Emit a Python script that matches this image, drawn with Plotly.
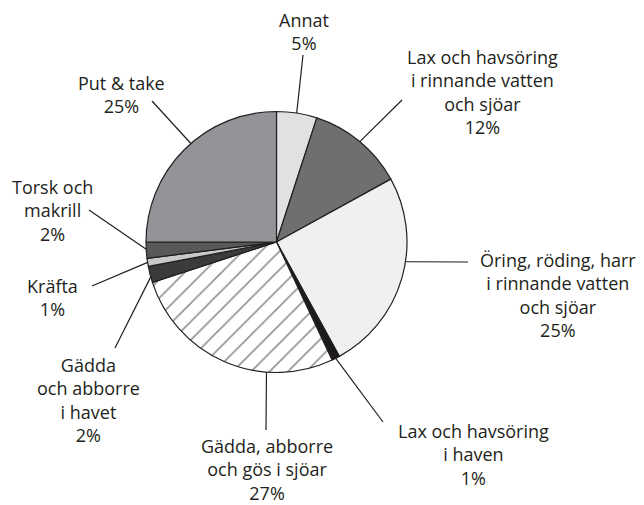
import math
import plotly.graph_objects as go

# ---- data ----
categories = [
    "Annat",
    "Lax och havsöring<br>i rinnande vatten<br>och sjöar",
    "Öring, röding, harr<br>i rinnande vatten<br>och sjöar",
    "Lax och havsöring<br>i haven",
    "Gädda, abborre<br>och gös i sjöar",
    "Gädda<br>och abborre<br>i havet",
    "Kräfta",
    "Torsk och<br>makrill",
    "Put & take",
]
values = [5, 12, 25, 1, 27, 2, 1, 2, 25]

# ---- style / layout ----
colors = ["#e1e1e3", "#6e6f71", "#f0f0f0", "#1c1a1b", "#ffffff",
          "#3b3a3c", "#c9c9cb", "#58585a", "#939497"]
patterns = ["", "", "", "", "/", "", "", "", ""]
INK = "#231f20"
W, H = 644, 505
OFF = 8  # page body margin offset
CX, CY, R = 276.5, 242.0, 130.5

# label block centres (px) and leader outer end (px), leader angle on rim (deg clockwise from top)
label_pos = [(304, 31), (482, 92), (558, 295), (473, 454), (267, 469),
             (89, 400), (53, 297), (52, 210), (121, 94)]
leader_end = [(303, 55), (402, 100), (468, 262), (383, 422), (266, 430),
              (115, 348), (92, 286), (89, 210), (152, 101)]
leader_angle = [8.9, 39.7, 98.7, 153.0, 184.4, 254.5, 261.0, 266.8, 319.0]

def px(x):
    return (x - OFF) / W

def py(y):
    return 1 - (y - OFF) / H

fig = go.Figure(go.Pie(
    values=values,
    labels=[c.replace("<br>", " ") for c in categories],
    sort=False,
    direction="clockwise",
    rotation=0,
    textinfo="none",
    hoverinfo="label+percent",
    marker=dict(colors=colors,
                line=dict(color=INK, width=1.2),
                pattern=dict(shape=patterns, fgcolor=INK, bgcolor="#ffffff",
                             fillmode="overlay", size=13, solidity=0.12)),
    domain=dict(x=[px(CX - R), px(CX + R)], y=[py(CY + R), py(CY - R)]),
    showlegend=False,
))

total = sum(values)
shapes = []
annotations = []
for cat, v, (lx, ly), (ex, ey), ang in zip(categories, values, label_pos, leader_end, leader_angle):
    pct = round(100 * v / total)
    a = math.radians(ang)
    sx = CX + R * math.sin(a)
    sy = CY - R * math.cos(a)
    shapes.append(dict(type="line", xref="paper", yref="paper",
                       x0=px(sx), y0=py(sy), x1=px(ex), y1=py(ey),
                       line=dict(color=INK, width=1.2)))
    annotations.append(dict(x=px(lx), y=py(ly), xref="paper", yref="paper",
                            text=f"{cat}<br>{pct}%", showarrow=False,
                            xanchor="center", yanchor="middle", align="center",
                            font=dict(family="Open Sans, Noto Sans, sans-serif",
                                      size=18, color=INK)))

fig.update_layout(
    width=W, height=H,
    margin=dict(l=0, r=0, t=0, b=0),
    paper_bgcolor="white", plot_bgcolor="white",
    shapes=shapes, annotations=annotations,
)

fig.write_html("out.html")
